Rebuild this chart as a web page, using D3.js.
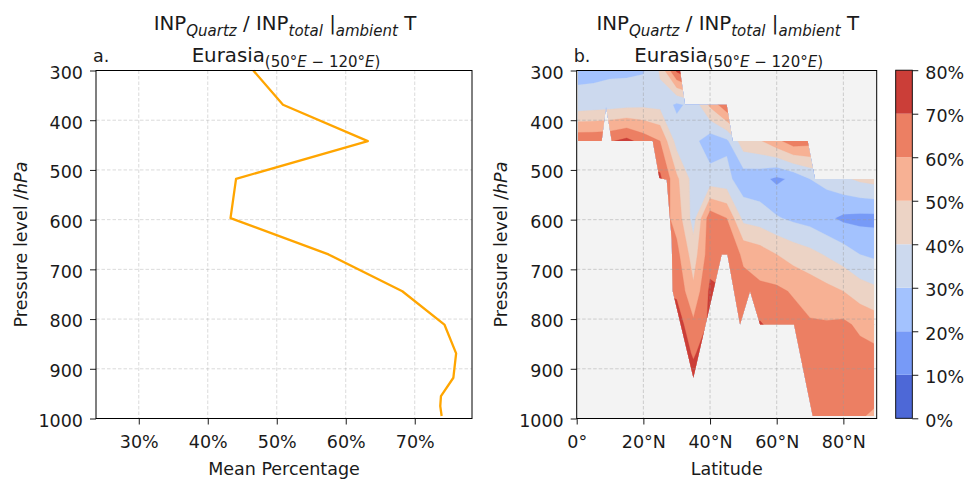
<!DOCTYPE html>
<html><head><meta charset="utf-8">
<script src="https://cdn.jsdelivr.net/npm/d3@7"></script>
<style>
body{margin:0;background:#fff}
text{font-family:"DejaVu Sans",sans-serif;fill:#1a1a1a}
</style>
</head><body>
<svg id="chart" width="968" height="480"></svg>
<script>
// ---------- data ----------
const levels = [300,369,442,518,597,670,744,811,869,918,955,975,995];
const meanPct = [46.6,50.9,63.2,44.1,43.3,57.5,68.2,74.3,76.0,75.6,73.8,73.7,73.9];

const lats = [0,5,10,15,20,25,30,35,40,45,50,55,60,65,70,75,80,85,90];
const r300 = [27,27,28,28,29,41,72,85,85,85,80,75,70,70,70,70,70,70,70];
const r369 = [34,35,36,37,38,37,28,33,52,68,70,70,70,70,70,70,70,70,70];
const r442 = [68,68,69,73,66,60,36,33,24,28,46,49,57,66,64,62,62,62,62];
const r518 = [70,70,70,70,72,72,52,36,34,33,24,23,18,22,30,33,38,42,44];
const r597 = [68,68,68,68,68,66,56,36,66,60,37,35,31,28,26,22,18,17,17];
const r670 = [68,68,68,68,68,66,63,45,66,68,58,55,50,46,43,39,35,30,28];
const r744 = [70,70,70,70,70,70,68,52,72,70,64,62,62,59,56,53,50,45,42];
const r811 = [70,70,70,70,70,72,76,62,72,72,68,71,66,64,61,61,62,58,55];
const r869 = [70,70,70,70,70,75,82,68,80,72,68,68,67,66,64,64,63,63,62];
const r918 = [70,70,70,70,70,75,80,76,78,72,68,67,66,65,65,64,64,63,62];
const r955 = [70,70,70,70,70,75,80,78,78,72,68,67,66,65,64,64,63,62,61];
const r975 = [70,70,70,70,70,75,80,78,78,72,68,67,66,65,64,64,63,62,60];
const r995 = [70,70,70,70,70,75,80,78,78,72,68,67,66,65,64,63,63,61,58];

// outline of the region where data exist (lat, pressure)
const maskLat = [0.4,31,32.5,45,46.8,69.3,71.5,89.2,89.2,70.8,65.2,55,52,49,45.2,43.5,35,28.8,28.5,27,24.8,22.8,10.5,8.8,7.5,0.4];
const maskP   = [300,300,369,369,442,442,518,518,995,995,811,811,744,811,670,670,918,744,640,520,516,442,442,373,442,442];

const bandLevels = [0,10,20,30,40,50,60,70,80];
const bandColors = ["#4d68d7","#779af7","#a3c2fe","#ccd9ee","#ecd3c5","#f7b194","#ec7f63","#cb3e38"];

const pTicks = [300,400,500,600,700,800,900,1000];
const pctTicks = [30,40,50,60,70];
const latTicks = [0,20,40,60,80];
const latTickLabels = ["0°","20°N","40°N","60°N","80°N"];
const cbTicks = [0,10,20,30,40,50,60,70,80];

// ---------- layout ----------
const svg = d3.select("#chart");
const FS = 17.5, TFS = 19.8, SFS = 15, SUBDY = 5.5;
const yTop = 70.5, yBot = 418.5;
const L = {x0:96, x1:472}, R = {x0:576.7, x1:876.7};

const yP = d3.scaleLinear().domain([300,1000]).range([yTop,yBot]);
const xL = d3.scaleLinear().domain([23.8,78.3]).range([L.x0,L.x1]);
const xR = d3.scaleLinear().domain([0,90]).range([R.x0,R.x1]);
const yC = d3.scaleLinear().domain([0,80]).range([418.3,70.2]);
const color = d3.scaleThreshold().domain(bandLevels.slice(1,-1)).range(bandColors);

function styleAxis(g){
  g.select(".domain").remove();
  g.selectAll(".tick line").attr("stroke","#000").attr("stroke-width",0.9);
  g.selectAll(".tick text").attr("font-size",FS).attr("font-family","DejaVu Sans").attr("fill","#1a1a1a");
}
function grid(g, xvals, xs, x0, x1, stroke, op){
  const gg = g.append("g");
  gg.selectAll(null).data(xvals).join("line")
    .attr("x1",d=>xs(d)).attr("x2",d=>xs(d)).attr("y1",yTop).attr("y2",yBot)
    .attr("stroke",stroke).attr("stroke-opacity",op).attr("stroke-width",0.8).attr("stroke-dasharray","3.5,2");
  gg.selectAll(null).data(pTicks.slice(1,-1)).join("line")
    .attr("y1",d=>yP(d)).attr("y2",d=>yP(d)).attr("x1",x0).attr("x2",x1)
    .attr("stroke",stroke).attr("stroke-opacity",op).attr("stroke-width",0.8).attr("stroke-dasharray","3.5,2");
}

// ---------- left panel ----------
const gl = svg.append("g");
grid(gl, pctTicks, xL, L.x0, L.x1, "#b0b0b0", 0.6);

const line = d3.line().x(d=>xL(d)).y((d,i)=>yP(levels[i]));
gl.append("path").datum(meanPct).attr("d",line).attr("fill","none")
  .attr("stroke","#ffa500").attr("stroke-width",2.3).attr("stroke-linejoin","round");

gl.append("rect").attr("x",L.x0).attr("y",yTop).attr("width",L.x1-L.x0).attr("height",yBot-yTop)
  .attr("fill","none").attr("stroke","#000").attr("stroke-width",1);

gl.append("g").attr("transform",`translate(${L.x0},0)`)
  .call(d3.axisLeft(yP).tickValues(pTicks).tickSize(6).tickPadding(7).tickFormat(d3.format("d")))
  .call(styleAxis).selectAll(".tick text").attr("dy","0.45em");
gl.append("g").attr("transform",`translate(0,${yBot})`)
  .call(d3.axisBottom(xL).tickValues(pctTicks).tickSize(6).tickPadding(11.5).tickFormat(d=>d+"%"))
  .call(styleAxis);

// ---------- right panel ----------
const gr = svg.append("g");
const defs = svg.append("defs");
const maskPts = maskLat.map((la,i)=>[xR(la), yP(maskP[i])]);
defs.append("clipPath").attr("id","dataclip").append("path")
  .attr("d", d3.line()(maskPts)+"Z");

gr.append("rect").attr("x",R.x0).attr("y",yTop).attr("width",R.x1-R.x0).attr("height",yBot-yTop)
  .attr("fill","#f3f3f3");

// build grid values
const rows = [r300,r369,r442,r518,r597,r670,r744,r811,r869,r918,r955,r975,r995];
const nx = lats.length, ny = levels.length;
const values = [];
rows.forEach(r=>r.forEach(v=>values.push(v)));
const latOf = c => { const t=c-0.5; const i=Math.max(0,Math.min(nx-2,Math.floor(t))); return lats[i]+(t-i)*(lats[i+1]-lats[i]); };
const pOf = c => { const t=c-0.5; const i=Math.max(0,Math.min(ny-2,Math.floor(t))); return levels[i]+(t-i)*(levels[i+1]-levels[i]); };
const proj = d3.geoTransform({point:function(x,y){ this.stream.point(xR(latOf(x)), yP(pOf(y))); }});
const path = d3.geoPath(proj);
const contours = d3.contours().size([nx,ny]).thresholds(bandLevels.slice(0,-1))(values);

const gc = gr.append("g").attr("clip-path","url(#dataclip)");
gc.selectAll("path").data(contours).join("path")
  .attr("d",path).attr("fill",d=>color(d.value+5)).attr("stroke",d=>color(d.value+5)).attr("stroke-width",0.3);

grid(gr, latTicks.slice(1), xR, R.x0, R.x1, "#9a9a9a", 0.55);

gr.append("rect").attr("x",R.x0).attr("y",yTop).attr("width",R.x1-R.x0).attr("height",yBot-yTop)
  .attr("fill","none").attr("stroke","#000").attr("stroke-width",1);
gr.append("g").attr("transform",`translate(${R.x0},0)`)
  .call(d3.axisLeft(yP).tickValues(pTicks).tickSize(6).tickPadding(7).tickFormat(d3.format("d")))
  .call(styleAxis).selectAll(".tick text").attr("dy","0.45em");
gr.append("g").attr("transform",`translate(0,${yBot})`)
  .call(d3.axisBottom(xR).tickValues(latTicks).tickSize(6).tickPadding(11.5).tickFormat((d,i)=>latTickLabels[i]))
  .call(styleAxis);

// ---------- colorbar ----------
const cb = svg.append("g");
const cbx0 = 895.7, cbx1 = 912.3;
cb.selectAll("rect.band").data(bandColors).join("rect").attr("class","band")
  .attr("x",cbx0).attr("width",cbx1-cbx0)
  .attr("y",(d,i)=>yC(bandLevels[i+1])).attr("height",(d,i)=>yC(bandLevels[i])-yC(bandLevels[i+1]))
  .attr("fill",d=>d);
cb.append("rect").attr("x",cbx0).attr("y",yC(80)).attr("width",cbx1-cbx0).attr("height",yC(0)-yC(80))
  .attr("fill","none").attr("stroke","#000").attr("stroke-width",0.9);
cb.append("g").attr("transform",`translate(${cbx1},0)`)
  .call(d3.axisRight(yC).tickValues(cbTicks).tickSize(6).tickPadding(7).tickFormat(d=>d+"%"))
  .call(styleAxis).selectAll(".tick text").attr("dy","0.45em");

// ---------- texts ----------
function mathText(x, y, parts, size){
  const t = svg.append("text").attr("x",x).attr("y",y).attr("text-anchor","middle").attr("font-size",size);
  let shifted = false;
  parts.forEach(p=>{
    const s = t.append("tspan").text(p.t).attr("xml:space","preserve");
    if (p.sub && !shifted){ s.attr("dy",SUBDY); shifted = true; }
    if (!p.sub && shifted){ s.attr("dy",-SUBDY); shifted = false; }
    if (p.sub) s.attr("font-size",SFS);
    if (p.it) s.attr("font-style","italic");
  });
  return t;
}
const title1 = [{t:"INP"},{t:"Quartz",sub:1,it:1},{t:" / INP"},{t:"total",sub:1,it:1},{t:" |"},{t:"ambient",sub:1,it:1},{t:" T"}];
const title2 = [{t:"Eurasia"},{t:"(50°",sub:1},{t:"E",sub:1,it:1},{t:" − 120°",sub:1},{t:"E",sub:1,it:1},{t:")",sub:1}];
[[L.x0,L.x1,"a."],[R.x0,R.x1,"b."]].forEach(([a,b,lab])=>{
  const cx=(a+b)/2;
  mathText(cx+1, 30, title1, TFS);
  mathText(cx+2, 61.5, title2, TFS);
  svg.append("text").attr("x",a-3).attr("y",61.5).attr("font-size",FS).text(lab);
});
function ylabel(x){
  const t = svg.append("text").attr("transform",`translate(${x},${(yTop+yBot)/2}) rotate(-90)`)
    .attr("text-anchor","middle").attr("font-size",FS);
  t.append("tspan").text("Pressure level /");
  t.append("tspan").attr("font-style","italic").text("hPa");
}
ylabel(26.5); ylabel(506.5);
svg.append("text").attr("x",(L.x0+L.x1)/2).attr("y",475).attr("text-anchor","middle").attr("font-size",FS).text("Mean Percentage");
svg.append("text").attr("x",(R.x0+R.x1)/2).attr("y",475).attr("text-anchor","middle").attr("font-size",FS).text("Latitude");
</script>
</body></html>
